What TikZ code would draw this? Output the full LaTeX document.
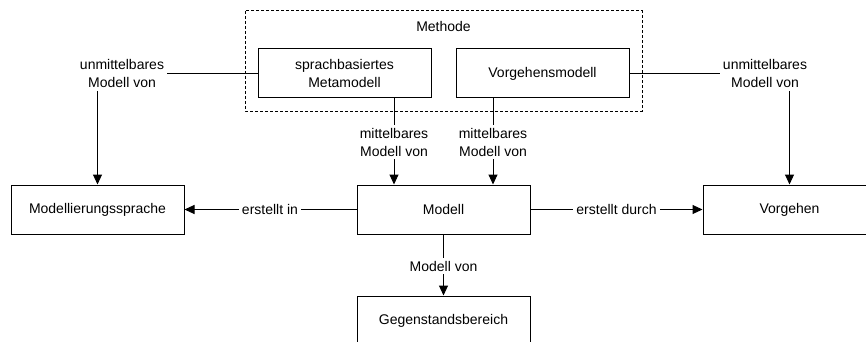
\documentclass[tikz,border=0pt]{standalone}
\usepackage{fontspec}
\setmainfont{Liberation Sans}
\usetikzlibrary{arrows.meta}
\tikzset{
    box/.style={draw, line width=1pt, minimum width=173pt, minimum height=49pt, inner sep=0pt, align=center},
    lbl/.style={align=center, inner sep=3pt},
    conn/.style={line width=1pt},
    arr/.style={line width=1pt, -{Triangle[length=10pt,width=9pt]}},
}
\begin{document}
\begin{tikzpicture}[x=1pt,y=-1pt, font=\fontsize{14}{18}\selectfont]
		\clip (0,0) rectangle (866,342);

		% Methode
		\draw[line width=1pt, dash pattern=on 3pt off 2pt] (245,11) rectangle (642,111);
	    \node (methode) at (443.5,26) {Methode};
		\node[box] (meta) at (344.5,73.5) {sprachbasiertes\\Metamodell};
		\node[box] (vorgm) at (542.5,73.5) {Vorgehensmodell};

		% boxes
		\node[box] (sprache) at (97.5,209.5) {Modellierungssprache};
		\node[box] (modell) at (443.5,209.5) {Modell};
		\node[box] (vorgehen) at (789.5,209.5) {Vorgehen};
		\node[box] (gegen) at (443.5,320.5) {Gegenstandsbereich};

		% labels
		\node[lbl] (unml) at (122,73.5) {unmittelbares\\Modell von};
		\node[lbl] (unmr) at (765,73.5) {unmittelbares\\Modell von};
		\node[lbl] (mittl) at (394,142) {mittelbares\\Modell von};
		\node[lbl] (mittr) at (493,142) {mittelbares\\Modell von};
		\node[lbl] (erstin) at (270,209.5) {erstellt in};
		\node[lbl] (erstdurch) at (616.5,209.5) {erstellt durch};
		\node[lbl] (mvon) at (443.5,266) {Modell von};

		% arrows
		\draw[conn] (unml) -- (meta.west);
		\draw[arr] (unml.south -| sprache.north) -- (sprache.north);
		\draw[conn] (vorgm.east) -- (unmr);
		\draw[arr] (unmr.south -| vorgehen.north) -- (vorgehen.north);

		\draw[conn] (mittl |- meta.south) -- (mittl.north);
		\draw[arr] (mittl.south) -- (mittl |- modell.north);
		\draw[conn] (mittr |- vorgm.south) -- (mittr.north);
		\draw[arr] (mittr.south) -- (mittr |- modell.north);

		\draw[conn] (modell.west) -- (erstin);
		\draw[arr] (erstin) -- (sprache.east);
		\draw[conn] (modell.east) -- (erstdurch);
		\draw[arr] (erstdurch) -- (vorgehen.west);
		\draw[conn] (modell.south) -- (mvon);
		\draw[arr] (mvon) -- (gegen.north);
\end{tikzpicture}
\end{document}
